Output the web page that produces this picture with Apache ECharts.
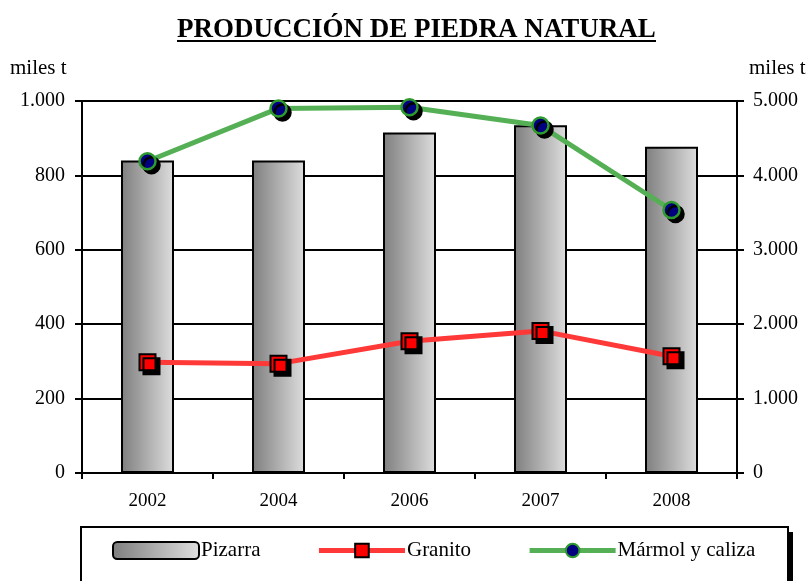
<!DOCTYPE html>
<html>
<head>
<meta charset="utf-8">
<script src="https://cdn.jsdelivr.net/npm/echarts@6/dist/echarts.min.js"></script>
<style>html,body{margin:0;padding:0;background:#fff}#c{width:807px;height:581px}</style>
</head>
<body>
<div id="c"></div>
<script>
var years = ['2002', '2004', '2006', '2007', '2008'];
var pizarra = [840, 840, 915, 935, 877];
var granito = [1490, 1470, 1770, 1910, 1570];
var marmol = [4190, 4900, 4915, 4670, 3535];
var leftTicks = {min: 0, max: 1000, interval: 200};
var rightTicks = {min: 0, max: 5000, interval: 1000};

var FONT = '"Liberation Serif", "Times New Roman", serif';
function fmt(v) { return String(v).replace(/\B(?=(\d{3})+(?!\d))/g, '.'); }

var chart = echarts.init(document.getElementById('c'));
chart.setOption({
  backgroundColor: '#fff',
  animation: false,
  title: {
    text: 'PRODUCCIÓN DE PIEDRA NATURAL',
    left: 172, top: 12,
    textStyle: {fontFamily: FONT, fontWeight: 'bold', fontSize: 27, color: '#000'}
  },
  graphic: [
    {type: 'line', shape: {x1: 177, y1: 41, x2: 656, y2: 41}, style: {stroke: '#000', lineWidth: 2}},
    {type: 'text', left: 10, top: 58, style: {text: 'miles t', font: '21px ' + FONT, fill: '#000'}},
    {type: 'text', left: 749, top: 58, style: {text: 'miles t', font: '21px ' + FONT, fill: '#000'}},
    {type: 'rect', shape: {x: 86, y: 532, width: 707, height: 80}, style: {fill: '#000'}, z: 0},
    {type: 'rect', shape: {x: 81, y: 527, width: 707, height: 80}, style: {fill: '#fff', stroke: '#000', lineWidth: 2}, z: 1}
  ],
  grid: {left: 82, right: 70, top: 101, bottom: 108, containLabel: false},
  legend: {
    left: 81, top: 526,
    padding: [14, 30, 40, 31],
    itemGap: 56, itemWidth: 86, itemHeight: 17,
    textStyle: {fontFamily: FONT, fontSize: 21, color: '#000', padding: [0, 0, 0, -3]},
    data: [
      {name: 'Pizarra'},
      {name: 'Granito', lineStyle: {width: 5, color: '#ff3838'}},
      {name: 'Mármol y caliza', lineStyle: {width: 5, color: '#55b055'}}
    ],
    z: 10
  },
  xAxis: {
    type: 'category', data: years, boundaryGap: true,
    axisLine: {lineStyle: {color: '#000', width: 2}},
    axisTick: {show: true, length: 6, lineStyle: {color: '#000', width: 2}},
    axisLabel: {fontFamily: FONT, fontSize: 19, color: '#000', margin: 19}
  },
  yAxis: [
    {
      type: 'value', position: 'left', min: leftTicks.min, max: leftTicks.max, interval: leftTicks.interval,
      axisLine: {show: true, lineStyle: {color: '#000', width: 2}},
      axisTick: {show: true, length: 7, lineStyle: {color: '#000', width: 2}},
      splitLine: {show: true, lineStyle: {color: '#000', width: 2}},
      axisLabel: {fontFamily: FONT, fontSize: 20, color: '#000', margin: 17, formatter: fmt}
    },
    {
      type: 'value', position: 'right', min: rightTicks.min, max: rightTicks.max, interval: rightTicks.interval,
      axisLine: {show: true, lineStyle: {color: '#000', width: 2}},
      axisTick: {show: true, length: 7, lineStyle: {color: '#000', width: 2}},
      splitLine: {show: false},
      axisLabel: {fontFamily: FONT, fontSize: 20, color: '#000', margin: 16, formatter: fmt}
    }
  ],
  series: [
    {
      name: 'Pizarra', type: 'bar', yAxisIndex: 0, data: pizarra, barWidth: 53,
      itemStyle: {
        color: new echarts.graphic.LinearGradient(0, 0, 1, 0, [
          {offset: 0, color: '#7e7e7e'}, {offset: 1, color: '#dedede'}
        ]),
        borderColor: '#000', borderWidth: 2
      },
      z: 2
    },
    {
      name: 'Granito', type: 'line', yAxisIndex: 1, data: granito,
      symbol: 'rect', symbolSize: 16,
      lineStyle: {color: '#ff3838', width: 5},
      itemStyle: {color: '#ff0000', borderColor: '#000', borderWidth: 2,
        shadowColor: '#000', shadowOffsetX: 4, shadowOffsetY: 4, shadowBlur: 0},
      z: 3
    },
    {
      name: 'Mármol y caliza', type: 'line', yAxisIndex: 1, data: marmol,
      symbol: 'circle', symbolSize: 16,
      lineStyle: {color: '#55b055', width: 5},
      itemStyle: {color: '#000080', borderColor: '#2e9a2e', borderWidth: 2.5,
        shadowColor: '#000', shadowOffsetX: 4, shadowOffsetY: 4, shadowBlur: 0},
      z: 4
    }
  ]
});
</script>
</body>
</html>
